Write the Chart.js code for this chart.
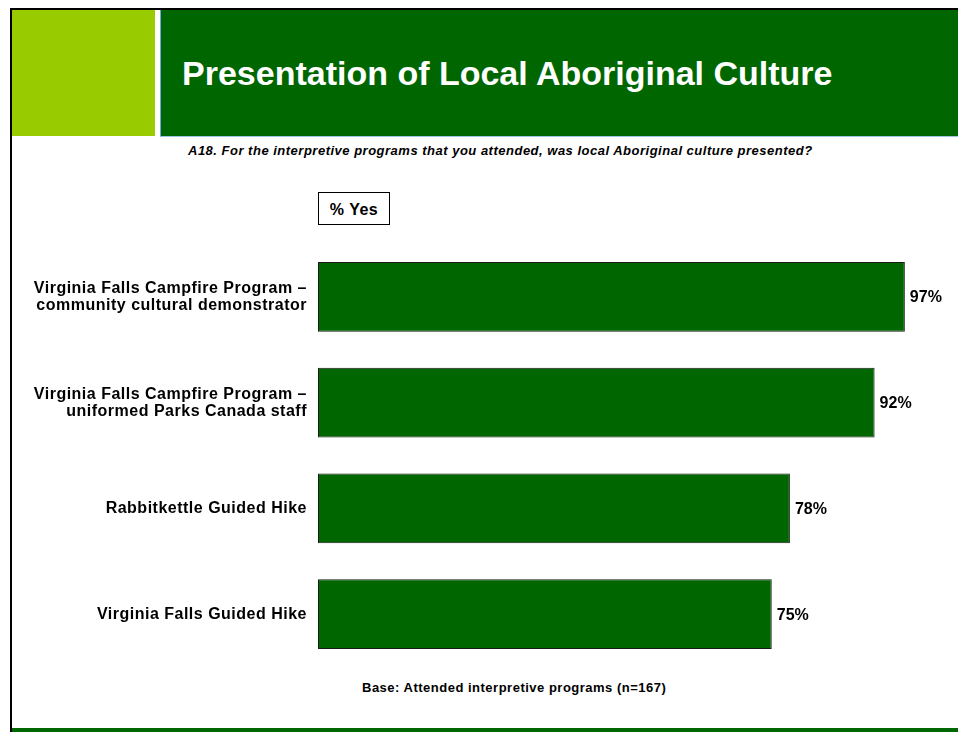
<!DOCTYPE html>
<html>
<head>
<meta charset="utf-8">
<script src="https://cdn.jsdelivr.net/npm/chart.js@4.4.1/dist/chart.umd.min.js"></script>
<style>
  html, body { margin: 0; padding: 0; background: #fff; }
  body { width: 958px; height: 732px; position: relative; overflow: hidden; font-family: Arial, "Liberation Sans", sans-serif; }
  .frame-left { position: absolute; left: 10px; top: 8px; width: 2px; height: 724px; background: #000; }
  .frame-top { position: absolute; left: 10px; top: 8px; width: 948px; height: 2px; background: #000; }
  .lime { position: absolute; left: 12px; top: 10px; width: 143px; height: 126px; background: #99cc00; }
  .banner { position: absolute; left: 160px; top: 10px; width: 798px; height: 127px; background: #006600;
            border-left: 1px solid #6fa8dc; border-bottom: 1px solid #9fc5e8; box-sizing: border-box; }
  .banner h1 { margin: 0; position: absolute; left: 21px; top: 46px; color: #fff; font-size: 34px; font-weight: bold;
               line-height: 34px; white-space: nowrap; }
  .question { position: absolute; left: 188px; top: 144px; font-size: 13px; line-height: 14px; font-weight: bold;
              font-style: italic; letter-spacing: 0.5px; white-space: nowrap; color: #000; }
  .yes-box { position: absolute; left: 318px; top: 192px; width: 70px; height: 30px; padding-top: 1px; border: 1px solid #000;
             font-size: 16px; font-weight: bold; letter-spacing: 0.5px; text-align: center; line-height: 31px; }
  .base { position: absolute; left: 362px; top: 681px; font-size: 13px; line-height: 14px; font-weight: bold;
          letter-spacing: 0.5px; white-space: nowrap; color: #000; }
  .footer-bar { position: absolute; left: 12px; top: 728px; width: 946px; height: 4px; background: #006600; }
  #wrap { position: absolute; left: 0; top: 0; width: 958px; height: 732px; }
</style>
</head>
<body>
<div class="frame-left"></div>
<div class="frame-top"></div>
<div class="lime"></div>
<div class="banner"><h1>Presentation of Local Aboriginal Culture</h1></div>
<div class="question">A18. For the interpretive programs that you attended, was local Aboriginal culture presented?</div>
<div class="yes-box">% Yes</div>
<div class="base">Base: Attended interpretive programs (n=167)</div>
<div class="footer-bar"></div>
<div id="wrap"><canvas id="chart"></canvas></div>

<script>
const programs = [
  ['Virginia Falls Campfire Program \u2013', 'community cultural demonstrator'],
  ['Virginia Falls Campfire Program \u2013', 'uniformed Parks Canada staff'],
  'Rabbitkettle Guided Hike',
  'Virginia Falls Guided Hike'
];
const pctYes = [97, 92, 78, 75];

const FONT = 'Arial, "Liberation Sans", sans-serif';

// slightly looser letter spacing for the axis labels
const spacing = {
  id: 'spacing',
  beforeDraw(chart) {
    chart.ctx.letterSpacing = '0.5px';
  }
};

// writes the % value just past the end of each bar
const valueLabels = {
  id: 'valueLabels',
  afterDatasetsDraw(chart) {
    const ctx = chart.ctx;
    const meta = chart.getDatasetMeta(0);
    ctx.save();
    ctx.letterSpacing = '0px';
    ctx.font = 'bold 16px ' + FONT;
    ctx.fillStyle = '#000';
    ctx.textAlign = 'left';
    ctx.textBaseline = 'middle';
    meta.data.forEach((bar, i) => {
      ctx.fillText(pctYes[i] + '%', bar.x + 5, bar.y + 1);
    });
    ctx.restore();
  }
};

const config = {
  type: 'bar',
  data: {
    labels: programs,
    datasets: [{
      data: pctYes,
      backgroundColor: '#006600',
      borderColor: '#1a1a1a',
      borderWidth: 1,
      borderSkipped: false,
      categoryPercentage: 1,
      barPercentage: 0.66
    }]
  },
  options: {
    indexAxis: 'y',
    responsive: true,
    maintainAspectRatio: false,
    animation: false,
    layout: { padding: { top: 244, bottom: 65, left: 0, right: 35 } },
    plugins: {
      legend: { display: false },
      tooltip: { enabled: false }
    },
    scales: {
      x: { min: 0, max: 100, display: false },
      y: {
        grid: { display: false, drawTicks: false },
        border: { display: false },
        ticks: {
          color: '#000',
          padding: 11,
          font: { family: FONT, size: 16, weight: 'bold', lineHeight: 17 / 16 }
        },
        afterFit(scale) { scale.width = 318; }
      }
    }
  },
  plugins: [spacing, valueLabels]
};

const chart = new Chart(document.getElementById('chart'), config);
</script>
</body>
</html>
